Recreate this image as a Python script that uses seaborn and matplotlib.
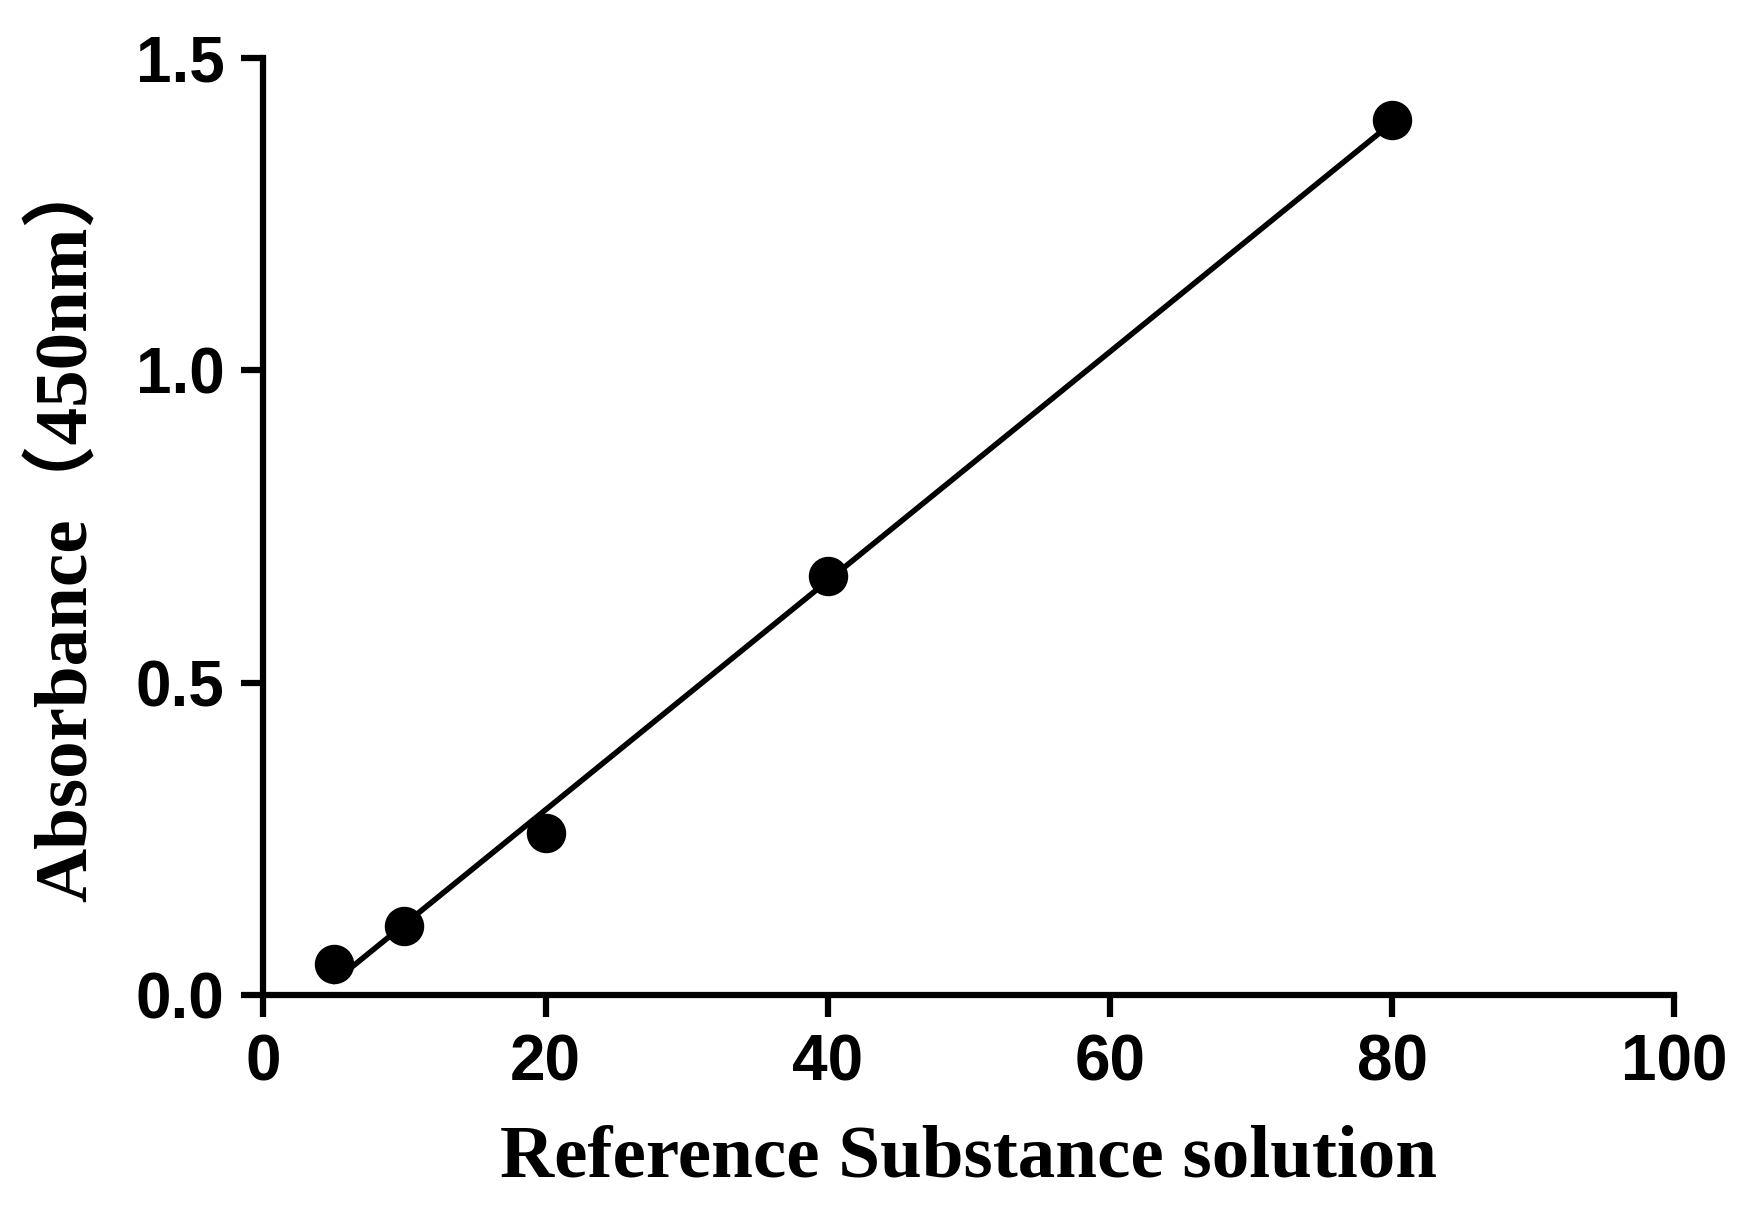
import numpy as np
import pandas as pd
import matplotlib
matplotlib.use('Agg')
import matplotlib.pyplot as plt
import seaborn as sns

# standard curve readings
concentration = [5, 10, 20, 40, 80]
absorbance = [0.05, 0.11, 0.26, 0.67, 1.40]
x_ticks = [0, 20, 40, 60, 80, 100]
y_ticks = [0.0, 0.5, 1.0, 1.5]

data = pd.DataFrame({'conc': concentration, 'abs': absorbance})

sns.set_style('ticks')
plt.rcParams['font.family'] = ['Liberation Sans', 'DejaVu Sans']
plt.rcParams['text.color'] = 'black'
plt.rcParams['axes.labelcolor'] = 'black'
plt.rcParams['xtick.color'] = 'black'
plt.rcParams['ytick.color'] = 'black'
plt.rcParams['axes.edgecolor'] = 'black'

fig = plt.figure(figsize=(17.44, 12.27), dpi=100)
ax = fig.add_axes([0.151, 0.189, 0.809, 0.764])

sns.regplot(data=data, x='conc', y='abs', ci=None, ax=ax, color='black',
            scatter_kws={'s': 750, 'clip_on': False, 'zorder': 3, 'alpha': 1},
            line_kws={'linewidth': 4})

ax.set_xlim(0, 100)
ax.set_ylim(0, 1.5)
ax.set_xticks(x_ticks)
ax.set_yticks(y_ticks)
ax.set_yticklabels([f'{v:.1f}' for v in y_ticks])
sns.despine(ax=ax)
for s in ['left', 'bottom']:
    ax.spines[s].set_linewidth(4.5)
ax.tick_params(width=4.5, length=16, labelsize=46, pad=12)
for lab in ax.get_xticklabels() + ax.get_yticklabels():
    lab.set_fontweight('bold')

ax.set_xlabel('Reference Substance solution', fontsize=54, fontweight='bold',
              family=['Liberation Serif', 'Noto Sans CJK SC'], labelpad=22)
ax.set_ylabel('Absorbance（450nm）', fontsize=54, fontweight='bold',
              family=['Liberation Serif', 'Noto Sans CJK SC'], labelpad=24)

fig.savefig('out.png', dpi=100, facecolor='white')
